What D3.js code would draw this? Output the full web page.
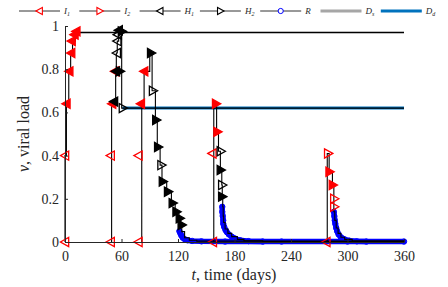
<!DOCTYPE html>
<html>
<head>
<meta charset="utf-8">
<script src="https://cdn.jsdelivr.net/npm/d3@7"></script>
<style>
  body { margin: 0; background: #fff; }
  text { font-family: "Liberation Serif", "DejaVu Serif", serif; fill: #262626; }
</style>
</head>
<body>
<div id="chart"></div>
<script>
// axis ticks
var xTicks = [0, 60, 120, 180, 240, 300, 360];
var yTicks = [0, 0.2, 0.4, 0.6, 0.8, 1];

// plateau lines D_s and D_d  [t, v]
var dsLine = [[13, 0.97], [360, 0.97]];
var ddLine = [[61, 0.62], [360, 0.62]];

// black state trajectories (stairs), one per episode  [t, v]
var trajA = [[0, 0], [0, 0.4], [1.5, 0.64], [4, 0.79], [6, 0.87], [8, 0.93], [11, 0.96], [14, 0.97], [360, 0.97]];
var trajB = [[49.5, 0], [49.5, 0.64], [53.8, 0.79], [54.5, 0.875], [55.5, 0.93], [57, 0.97], [60.2, 0.97]];
var trajB2 = [[60.2, 0.97], [60.2, 0.62], [62, 0.62], [360, 0.62]];
var trajC = [[81.5, 0], [81.5, 0.64], [84, 0.79], [90, 0.875], [92.5, 0.70], [96, 0.565], [98, 0.44], [101, 0.356],
             [103, 0.28], [108, 0.233], [113, 0.18], [117, 0.14], [121, 0.11], [123, 0.079], [124, 0.048],
             [127, 0.02], [132, 0.008], [140, 0.004], [360, 0.002]];
var trajD = [[158, 0], [158, 0.64], [161, 0.51], [163, 0.42], [165, 0.333], [166.5, 0.264], [167, 0.21], [167.5, 0.163],
             [168, 0.12], [168.5, 0.09], [170, 0.06], [173, 0.04], [177, 0.025], [183, 0.012], [190, 0.005], [210, 0.002], [360, 0.002]];
var trajE = [[278.5, 0], [278.5, 0.41], [280.5, 0.325], [284, 0.264], [285.5, 0.2], [285.5, 0.14], [286.5, 0.1],
             [288, 0.065], [290, 0.04], [293, 0.022], [297, 0.012], [305, 0.004], [360, 0.002]];

// marker samples, sparse ones and clustered (overlapping) ones
var i1Pts = [[0, 0], [0, 0.4], [48.5, 0], [48.5, 0.4], [78, 0], [78, 0.4], [157, 0], [156.5, 0.41], [277.5, 0]];
var i1Dense = [[1.5, 0.64], [4.5, 0.79], [6.5, 0.875], [7, 0.93], [10, 0.96], [12, 0.975], [50, 0.64], [53, 0.79],
               [80.5, 0.64], [84, 0.79]];
var i2Pts = [[279.5, 0.41], [286, 0.20], [286, 0.163]];
var i2Dense = [[160.5, 0.64], [162, 0.51], [281, 0.325], [284.5, 0.264]];
var h1Pts = [[55, 0.875], [55.5, 0.93], [56, 0.96]];
var h1Dense = [[52, 0.65], [54, 0.79], [57, 0.98]];
var h2Pts = [[61.5, 0.62], [93.5, 0.70], [102.5, 0.356], [165.5, 0.42], [167, 0.264]];
var h2Dense = [[58.5, 0.79], [60.5, 0.975], [91.5, 0.875], [97, 0.565], [99, 0.44], [104, 0.28], [109.5, 0.233],
               [114.5, 0.18], [118.5, 0.14], [122, 0.11], [124, 0.079], [165.5, 0.333], [167, 0.21]];

// R (recovered) samples per episode
var rC = [[121.5, 0.05], [122.5, 0.04], [123.5, 0.03], [125, 0.02], [127, 0.013], [130, 0.008], [135, 0.005],
          [145, 0.003], [170, 0.002], [230, 0.002], [300, 0.002], [360, 0.002]];
var rD = [[167, 0.163], [167, 0.14], [167.5, 0.12], [168, 0.1], [168, 0.085], [169, 0.07], [170.5, 0.055], [172, 0.045],
          [174, 0.035], [177, 0.025], [181, 0.015], [186, 0.008], [195, 0.004], [210, 0.002]];
var rE = [[285.5, 0.14], [286, 0.12], [286.5, 0.1], [287, 0.085], [288, 0.065], [289, 0.05], [290.5, 0.035],
          [293, 0.022], [297, 0.012], [302, 0.006], [310, 0.003], [320, 0.002]];

var legendItems = [
  {name: "I", sub: "1", type: "left", color: "#ff0000"},
  {name: "I", sub: "2", type: "right", color: "#ff0000"},
  {name: "H", sub: "1", type: "left", color: "#000"},
  {name: "H", sub: "2", type: "right", color: "#000"},
  {name: "R", sub: "", type: "circle", color: "#0000ff"},
  {name: "D", sub: "s", type: "grey", color: "#a6a6a6"},
  {name: "D", sub: "d", type: "blue", color: "#0072bd"}
];

var w = 448, h = 287;
var svg = d3.select("#chart").append("svg").attr("width", w).attr("height", h);

var x = d3.scaleLinear().domain([0, 360]).range([65, 404]);
var y = d3.scaleLinear().domain([0, 1]).range([242, 26]);

var stair = d3.line().x(function(d) { return x(d[0]); }).y(function(d) { return y(d[1]); }).curve(d3.curveStepAfter);
var lin = d3.line().x(function(d) { return x(d[0]); }).y(function(d) { return y(d[1]); });

function tri(dir, s) {
  // MATLAB like '<' and '>' markers
  if (dir == "left") return "M" + (-s) + ",0L" + (s * 0.8) + "," + (-s) + "L" + (s * 0.8) + "," + s + "Z";
  return "M" + s + ",0L" + (-s * 0.8) + "," + (-s) + "L" + (-s * 0.8) + "," + s + "Z";
}

// plateau lines
svg.append("path").attr("d", lin(dsLine)).attr("fill", "none").attr("stroke", "#a6a6a6").attr("stroke-width", 2.6);
svg.append("path").attr("d", lin(ddLine)).attr("fill", "none").attr("stroke", "#0072bd").attr("stroke-width", 3);

// R bands (dense circles)
[rC, rD, rE].forEach(function(r) {
  svg.append("path").attr("d", lin(r)).attr("fill", "none").attr("stroke", "#0000ff")
    .attr("stroke-width", 5.5).attr("stroke-linecap", "round").attr("stroke-linejoin", "round");
  svg.append("g").selectAll("circle").data(r).enter().append("circle")
    .attr("cx", function(d) { return x(d[0]); }).attr("cy", function(d) { return y(d[1]); })
    .attr("r", 2.7).attr("fill", "none").attr("stroke", "#0000ff").attr("stroke-width", 1);
});

// black trajectories
[trajA, trajB, trajB2, trajC, trajD, trajE].forEach(function(t) {
  svg.append("path").attr("d", stair(t)).attr("fill", "none").attr("stroke", "#000").attr("stroke-width", 1.1);
});

// triangle markers
function drawTri(pts, dir, color, filled) {
  svg.append("g").selectAll("path").data(pts).enter().append("path")
    .attr("transform", function(d) { return "translate(" + x(d[0]) + "," + y(d[1]) + ")"; })
    .attr("d", tri(dir, 4.6))
    .attr("fill", filled ? color : "none")
    .attr("stroke", color).attr("stroke-width", 1.3);
}
drawTri(i1Pts, "left", "#ff0000", false);
drawTri(i1Dense, "left", "#ff0000", true);
drawTri(i2Pts, "right", "#ff0000", false);
drawTri(i2Dense, "right", "#ff0000", true);
drawTri(h1Pts, "left", "#000", false);
drawTri(h1Dense, "left", "#000", true);
drawTri(h2Pts, "right", "#000", false);
drawTri(h2Dense, "right", "#000", true);

// axes
var xAxis = d3.axisBottom(x).tickValues(xTicks).tickSizeInner(-3).tickSizeOuter(0).tickPadding(9);
var yAxis = d3.axisLeft(y).tickValues(yTicks).tickSizeInner(-3).tickSizeOuter(0).tickPadding(6)
  .tickFormat(function(d) { return d == 0 || d == 1 ? d : d.toFixed(1); });

var gx = svg.append("g").attr("transform", "translate(0,242)").call(xAxis);
var gy = svg.append("g").attr("transform", "translate(65,0)").call(yAxis);
[gx, gy].forEach(function(g) {
  g.select(".domain").attr("stroke", "#262626");
  g.selectAll(".tick line").attr("stroke", "#262626");
  g.selectAll(".tick text").attr("font-size", 14).attr("font-family", "Liberation Serif").attr("fill", "#262626");
});

// axis labels
var xl = svg.append("text").attr("x", 234).attr("y", 280).attr("text-anchor", "middle").attr("font-size", 16);
xl.append("tspan").attr("font-style", "italic").text("t");
xl.append("tspan").text(", time (days)");

var yl = svg.append("text").attr("transform", "translate(29,134) rotate(-90)").attr("text-anchor", "middle").attr("font-size", 16);
yl.append("tspan").attr("font-style", "italic").text("v");
yl.append("tspan").text(", viral load");

// legend
var leg = svg.append("g").selectAll("g").data(legendItems).enter().append("g")
  .attr("transform", function(d, i) { return "translate(" + (19 + i * 60.3) + ",11)"; });

leg.append("line").attr("x1", 0).attr("x2", 41).attr("y1", 0).attr("y2", 0)
  .attr("stroke", function(d) { return d.type == "grey" || d.type == "blue" ? d.color : "#333"; })
  .attr("stroke-width", function(d) { return d.type == "grey" || d.type == "blue" ? 3 : 1; });

leg.filter(function(d) { return d.type == "left" || d.type == "right"; }).append("path")
  .attr("transform", "translate(20.5,0)")
  .attr("d", function(d) { return tri(d.type, 3.6); })
  .attr("fill", "#fff").attr("stroke", function(d) { return d.color; }).attr("stroke-width", 1.1);

leg.filter(function(d) { return d.type == "circle"; }).append("circle")
  .attr("cx", 20.5).attr("cy", 0).attr("r", 2.6)
  .attr("fill", "#fff").attr("stroke", function(d) { return d.color; }).attr("stroke-width", 1);

var lt = leg.append("text").attr("x", 45).attr("y", 3).attr("font-size", 9).attr("font-style", "italic");
lt.append("tspan").text(function(d) { return d.name; });
lt.append("tspan").attr("font-size", 6).attr("dy", 2).text(function(d) { return d.sub; });
</script>
</body>
</html>
